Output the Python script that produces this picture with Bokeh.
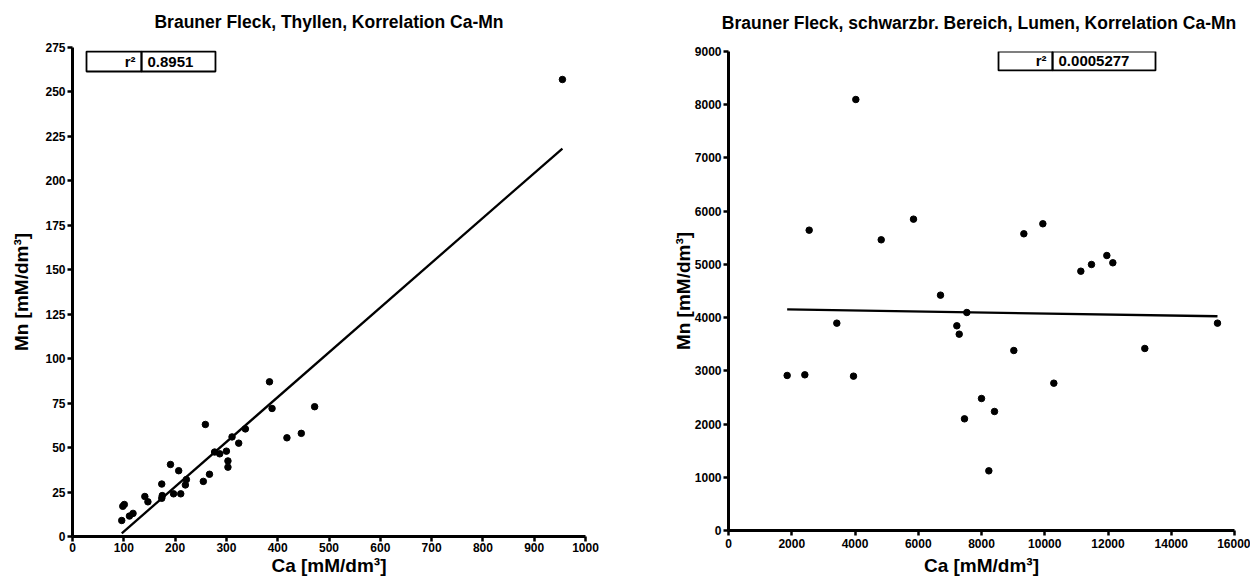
import numpy as np
from bokeh.plotting import figure
from bokeh.layouts import row
from bokeh.models import BoxAnnotation, Label, FixedTicker, Range1d, BasicTickFormatter, Title
from bokeh.embed import file_html
from bokeh.resources import INLINE

# ---- data ----
left_title = "Brauner Fleck, Thyllen, Korrelation Ca-Mn"
left_ca = [955, 384, 389, 472, 418, 446, 337, 311, 324, 259, 277, 287, 300, 303, 303,
           267, 255, 191, 207, 222, 220, 174, 197, 211, 175, 174, 141, 147, 101, 98,
           118, 111, 96]
left_mn = [257, 87, 72, 73, 55.5, 58, 60.5, 56, 52.5, 63, 47.5, 46.5, 48, 42.5, 39,
           35, 31, 40.5, 37, 32, 29, 29.5, 24, 24, 23, 21.5, 22.5, 19.5, 18, 17,
           13, 11.5, 9]
left_r2 = "0.8951"
left_xticks = list(range(0, 1001, 100))
left_yticks = list(range(0, 276, 25))

right_title = "Brauner Fleck,  schwarzbr. Bereich, Lumen, Korrelation Ca-Mn"
right_ca = [4026, 2551, 4829, 5850, 9339, 9940, 11141, 11478, 11963, 12153, 6704, 7536,
            3425, 7220, 7295, 15462, 9022, 13164, 1855, 2414, 3953, 10287, 8000, 8411,
            7462, 8232]
right_mn = [8098, 5643, 5462, 5850, 5575, 5763, 4872, 4998, 5167, 5030, 4422, 4096,
            3896, 3846, 3689, 3896, 3382, 3420, 2913, 2925, 2900, 2768, 2480, 2236,
            2098, 1121]
right_r2 = "0.0005277"
right_xticks = list(range(0, 16001, 2000))
right_yticks = list(range(0, 9001, 1000))

x_label = "Ca [mM/dm³]"
y_label = "Mn [mM/dm³]"

FONT = "Liberation Sans"


def make_panel(title, xs, ys, xticks, yticks, r2, width, borders, spacer_px,
               ylabel_standoff, xstandoffs, box):
    mbl, mbr, mbt, mbb = borders
    p = figure(width=width, height=585, output_backend="svg", toolbar_location=None,
               x_range=Range1d(xticks[0], xticks[-1]), y_range=Range1d(yticks[0], yticks[-1]),
               min_border_left=mbl, min_border_right=mbr, min_border_top=mbt,
               min_border_bottom=mbb)
    p.frame_align = False
    # spacer between frame and title, then the title itself
    p.add_layout(Title(text=" ", text_font_size=f"{spacer_px}px", standoff=0), "above")
    p.add_layout(Title(text=title, text_font=FONT, text_font_style="bold",
                       text_font_size="17.5px", text_color="black", align="center",
                       standoff=0), "above")
    p.outline_line_color = None
    p.grid.visible = False
    p.background_fill_color = "white"
    p.border_fill_color = "white"

    for ax, ticks in ((p.xaxis, xticks), (p.yaxis, yticks)):
        ax.ticker = FixedTicker(ticks=ticks)
        ax.formatter = BasicTickFormatter(use_scientific=False)
        ax.axis_line_width = 3
        ax.axis_line_color = "black"
        ax.major_tick_line_width = 2.5
        ax.major_tick_line_color = "black"
        ax.major_tick_in = 0
        ax.major_tick_out = 5
        ax.minor_tick_line_color = None
        ax.major_label_text_font = FONT
        ax.major_label_text_font_style = "bold"
        ax.major_label_text_font_size = "12px"
        ax.major_label_text_color = "black"
        ax.axis_label_text_font = FONT
        ax.axis_label_text_font_style = "bold"
        ax.axis_label_text_font_size = "19px"
        ax.axis_label_text_color = "black"
    p.xaxis.axis_label = x_label
    p.yaxis.axis_label = y_label
    p.xaxis.major_label_standoff = xstandoffs[0]
    p.xaxis.axis_label_standoff = xstandoffs[1]
    p.yaxis.major_label_standoff = 2
    p.yaxis.axis_label_standoff = ylabel_standoff

    # regression line
    k, d = np.polyfit(np.array(xs, float), np.array(ys, float), 1)
    x0, x1 = min(xs), max(xs)
    if k * x0 + d < 0:
        x0 = -d / k
    p.line([x0, x1], [k * x0 + d, k * x1 + d], line_color="black", line_width=2.3)

    p.scatter(xs, ys, size=6.5, color="black")

    bl, bd, br, bb, bt = box
    for l, r in ((bl, bd), (bd, br)):
        p.add_layout(BoxAnnotation(left=l, right=r, bottom=bb, top=bt,
                                   fill_alpha=0, line_color="black", line_alpha=1,
                                   line_width=1.8))
    ym = (bb + bt) / 2
    p.add_layout(Label(x=bd, y=ym, x_offset=-6, text="r²", text_align="right",
                       text_baseline="middle", text_font=FONT, text_font_style="bold",
                       text_font_size="15px", text_color="black"))
    p.add_layout(Label(x=bd, y=ym, x_offset=6, text=r2, text_align="left",
                       text_baseline="middle", text_font=FONT, text_font_style="bold",
                       text_font_size="15px", text_color="black"))
    return p


p1 = make_panel(left_title, left_ca, left_mn, left_xticks, left_yticks, left_r2,
                625, (72, 40, 47, 49), 12.5, 10, (1, 0), (27.3, 134.5, 278.7, 261.5, 272.7))
p2 = make_panel(right_title, right_ca, right_mn, right_xticks, right_yticks, right_r2,
                625, (103, 16, 51, 55), 15, -2, (3, 4), (8538, 10246, 13502, 8645, 9000))

layout = row(p1, p2)
open("out.html", "w").write(file_html(layout, INLINE))
